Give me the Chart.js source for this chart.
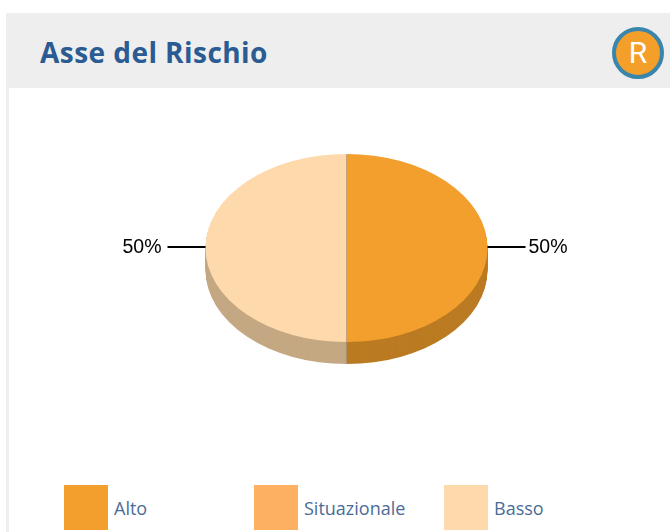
<!DOCTYPE html>
<html>
<head>
<meta charset="utf-8">
<title>Asse del Rischio</title>
<script src="https://cdn.jsdelivr.net/npm/chart.js"></script>
<style>
    html, body { margin: 0; padding: 0; background: #fff; overflow: hidden; }
    body { width: 670px; height: 532px; position: relative; font-family: "Open Sans", sans-serif; }
    #bordo { position: absolute; left: 6px; top: 88px; width: 3px; height: 444px; background: #eeeeee; }
    #testata { position: absolute; left: 6px; top: 13px; width: 664px; height: 75px; background: #eeeeee; }
    #titolo { position: absolute; left: 34px; top: 21px; font-size: 28px; line-height: 36px; font-weight: 700; letter-spacing: 0.45px; color: #2a5b93; white-space: nowrap; }
    #badge {
        position: absolute; left: 606px; top: 14px; width: 44px; height: 44px;
        border: 4px solid #3a85ab; border-radius: 50%; background: #f39f2a;
        color: #fff; font: 400 30px/44px Roboto, sans-serif; text-align: center;
    }
    #grafico { position: absolute; left: 0; top: 88px; width: 670px; height: 320px; }
    .voce { position: absolute; top: 485px; height: 45px; }
    .voce i { position: absolute; left: 0; top: 0; width: 44px; height: 45px; }
    .voce span { position: absolute; left: 50px; top: 12px; font-size: 18px; line-height: 22px; color: #4a6c98; white-space: nowrap; }
</style>
</head>
<body>
<div id="bordo"></div>
<div id="testata">
    <div id="titolo">Asse del Rischio</div>
    <div id="badge">R</div>
</div>
<div id="grafico"><canvas id="torta"></canvas></div>
<div id="legenda"></div>
<script>
    const categorie = ["Alto", "Situazionale", "Basso"];
    const valori = [50, 0, 50];
    const colori = ["#f39f2e", "#fdb062", "#fdd9ab"];
    const coloriLato = ["#bb7b22", "#c48a45", "#c4a883"];

    const SCHIACCIA = 0.667; // top face is an ellipse
    const SPESSORE = 22;

    // legend is plain html, the real chart has it outside the canvas
    categorie.forEach((c, i) => {
        const v = document.createElement("div");
        v.className = "voce";
        v.style.left = (64 + i * 190) + "px";
        v.innerHTML = `<i style="background:${colori[i]}"></i><span>${c}</span>`;
        document.getElementById("legenda").appendChild(v);
    });

    function schiaccia(ctx, arc, dy) {
        ctx.translate(arc.x, arc.y + dy);
        ctx.scale(1, SCHIACCIA);
        ctx.translate(-arc.x, -arc.y);
    }

    const torta3d = {
        id: "torta3d",
        beforeDatasetsDraw(chart) {
            const ctx = chart.ctx;
            const archi = chart.getDatasetMeta(0).data;
            // side wall: same arcs again, stacked downwards
            for (let dy = SPESSORE; dy > 0; dy--) {
                archi.forEach((arc, i) => {
                    if (!valori[i]) return;
                    ctx.save();
                    schiaccia(ctx, arc, dy);
                    ctx.fillStyle = coloriLato[i];
                    ctx.beginPath();
                    ctx.moveTo(arc.x, arc.y);
                    ctx.arc(arc.x, arc.y, arc.outerRadius, arc.startAngle, arc.endAngle);
                    ctx.closePath();
                    ctx.fill();
                    ctx.restore();
                });
            }
            ctx.save();
            schiaccia(ctx, archi[0], 0);
        },
        afterDatasetsDraw(chart) {
            const ctx = chart.ctx;
            ctx.restore();
            const archi = chart.getDatasetMeta(0).data;
            const a = archi[0];
            const ry = a.outerRadius * SCHIACCIA;
            // seam between the slices
            ctx.strokeStyle = "rgba(120,120,120,.35)";
            ctx.lineWidth = 1;
            ctx.beginPath();
            ctx.moveTo(a.x, a.y - ry);
            ctx.lineTo(a.x, a.y + ry + SPESSORE);
            ctx.stroke();
            // leader lines and percentages
            ctx.font = "19.5px 'Liberation Sans', Arial, sans-serif";
            ctx.fillStyle = "#000";
            ctx.textBaseline = "middle";
            archi.forEach((arc, i) => {
                if (!valori[i]) return;
                const mid = (arc.startAngle + arc.endAngle) / 2;
                const dir = Math.cos(mid) >= 0 ? 1 : -1;
                const x0 = arc.x + dir * arc.outerRadius;
                const x1 = x0 + dir * 38;
                ctx.strokeStyle = "#000";
                ctx.lineWidth = 2;
                ctx.beginPath();
                ctx.moveTo(x0, arc.y - 1);
                ctx.lineTo(x1, arc.y - 1);
                ctx.stroke();
                ctx.textAlign = dir > 0 ? "left" : "right";
                ctx.fillText(valori[i] + "%", x1 + dir * (dir > 0 ? 3 : 6), arc.y);
            });
        }
    };

    new Chart(document.getElementById("torta"), {
        type: "pie",
        data: {
            labels: categorie,
            datasets: [{
                data: valori,
                backgroundColor: colori,
                borderWidth: 0,
                clip: false
            }]
        },
        options: {
            responsive: true,
            maintainAspectRatio: false,
            animation: false,
            radius: 141,
            layout: { padding: { left: 23 } },
            plugins: {
                legend: { display: false },
                tooltip: { enabled: false }
            }
        },
        plugins: [torta3d]
    });
</script>
</body>
</html>
